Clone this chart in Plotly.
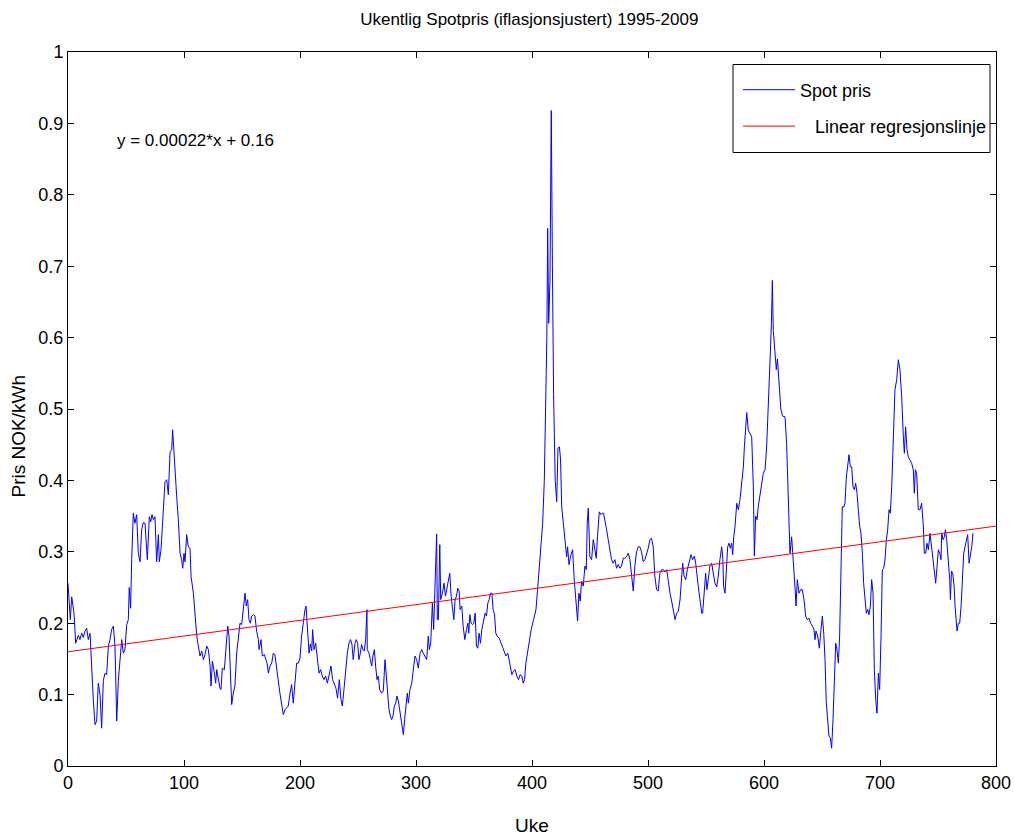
import plotly.graph_objects as go

# Weekly spot price (inflation adjusted), NOK/kWh
weeks = [0, 2.0, 3.2, 5.2, 6.6, 8.9, 10.3, 11.8, 13.2, 14.7, 16.1, 17.5, 19.0, 20.4, 21.8, 23.3, 24.7, 26.1, 27.6, 29.0,
         30.5, 31.9, 33.3, 34.8, 36.2, 37.6, 39.1, 40.5, 42.0, 43.4, 44.8, 46.3, 47.7, 49.1, 50.6, 52.0, 52.8, 54.0, 54.9, 56.3,
         57.7, 59.2, 60.6, 62.1, 63.5, 64.9, 66.4, 68.4, 70.1, 71.3, 72.4, 73.6, 75.0, 76.4, 77.9, 78.7, 80.2, 82.2, 83.6, 85.1,
         86.5, 88.0, 89.4, 90.2, 91.1, 92.2, 93.7, 95.1, 96.6, 98.0, 98.9, 100.0, 100.9, 102.3, 103.7, 105.2,
         106.1, 108.1, 109.5, 111.0, 112.4, 113.8, 115.3, 116.7, 118.1, 119.6, 121.0, 122.5, 123.3, 124.5, 126.2, 127.3, 128.2,
         129.6, 131.0, 131.9, 133.0, 134.8, 135.9, 137.7, 138.8, 139.7, 141.1, 142.5, 143.9, 145.4, 146.8, 148.3, 149.7, 151.1,
         152.6, 153.7, 154.9, 156.0, 157.2, 158.3, 159.8, 161.2, 162.6, 164.1, 164.7, 166.4, 167.5, 169.3, 170.4, 171.6, 172.7,
         174.1, 175.6, 177.0, 178.4, 179.9, 181.3, 182.7, 184.2, 185.6, 187.1, 188.5, 189.9, 191.4, 192.8, 194.2, 195.7, 197.1,
         198.6, 200.0, 201.4, 202.9, 204.3, 205.2,
         206.6, 207.8, 208.9, 210.1, 210.9, 212.1, 213.5, 215.0, 216.4, 217.8, 219.2, 220.7, 222.1, 223.6, 225.0, 226.7, 228.1,
         229.6, 231.0, 232.4, 233.9, 235.3, 236.5, 237.9, 239.4, 240.8, 242.2, 243.6, 244.8, 245.9, 247.4, 248.5, 249.7, 250.8,
         252.0, 253.1, 254.3, 255.4, 256.6, 257.7, 258.0, 259.5, 260.6, 261.8, 262.9, 264.1, 265.2, 266.4, 267.5, 268.7, 270.4,
         271.8, 273.3, 274.4, 275.6, 276.7, 277.9, 279.0, 280.2, 281.3, 282.5, 283.6, 284.8, 285.9, 287.1, 287.9, 289.1, 290.2,
         291.4, 292.5, 293.4, 294.8, 296.3, 297.7, 299.1, 300.6, 302.0, 303.5, 304.9, 306.3,
         307.8, 309.2, 310.6, 311.5, 312.7, 314.1, 315.2, 316.4, 317.8, 318.4, 319.3, 320.5, 321.3, 322.8, 324.2, 325.4, 326.5,
         328.0, 329.1, 330.3, 331.4, 332.6, 333.7, 334.9, 336.0, 337.2, 338.0, 339.5, 340.6, 342.1, 343.5, 344.7, 345.5, 346.4,
         347.5, 348.7, 349.8, 351.0, 352.1, 353.3, 354.4, 355.6, 356.7, 358.2, 359.6, 360.8, 361.9, 363.1, 364.2, 365.4, 366.5,
         367.7, 368.8, 370.0, 371.7, 373.4, 375.2, 376.3, 377.5, 379.2, 380.3, 381.5, 382.6, 384.1, 385.5, 386.9, 388.4, 389.8,
         391.3, 392.4, 393.6, 394.7, 395.9, 397.6, 399.3, 401.4, 403.4, 404.8, 406.2, 407.7,
         409.2, 410.6, 411.9, 412.8, 413.5, 414.4, 415.5, 416.6, 417.6, 418.6, 420.0, 421.3, 422.4, 423.6, 424.6,
         425.6, 427.0, 428.4, 429.9, 430.7, 431.9, 433.6, 435.0, 436.4, 437.8, 439.3, 440.4, 441.6, 442.7, 444.2, 445.6, 446.8,
         447.6, 448.5, 449.9, 451.4, 452.8, 454.2, 455.4, 456.5, 458.0, 459.4, 460.6, 461.7, 462.9, 464.3, 465.7, 467.2, 468.6,
         470.0, 471.5, 472.9, 474.3, 475.8, 477.2, 478.6, 480.1, 481.5, 483.0, 484.4, 485.8, 487.3, 488.7, 490.1, 491.6, 493.0,
         494.4, 495.9, 497.3, 498.7, 500.2, 501.6, 503.0, 504.5, 505.9, 507.4, 508.8, 510.2, 511.7, 513.1,
         514.7, 516.1, 517.5, 519.0, 520.4, 521.9, 523.3, 524.7, 526.2, 527.6, 529.0, 529.9, 531.1, 532.5, 533.9, 535.4, 537.1,
         538.5, 540.0, 541.1, 542.3, 543.4, 544.8, 546.3, 547.1, 548.5, 549.7, 550.8, 552.0, 553.4, 554.9, 556.3, 557.7, 559.2,
         560.6, 562.0, 563.5, 564.4, 565.2, 566.4, 567.5, 568.7, 569.8, 571.0, 572.1, 573.0, 573.9, 575.0, 576.5, 577.9, 579.3,
         580.8, 582.2, 583.1, 584.2, 585.1, 586.5, 588.0, 589.4, 590.8, 591.7, 592.8, 594.0, 595.1, 596.6, 598.0, 599.4, 600.9,
         602.3, 603.2,
         604.5, 605.5, 606.4, 607.2, 608.0, 609.5, 610.6, 611.6, 613.0, 614.5, 616.0,
         618.1, 619.5, 621.0, 622.4, 623.8, 625.3, 626.7, 627.6, 628.7, 630.2, 631.6, 633.0, 634.5, 635.9, 637.3, 638.8, 640.2,
         641.7, 643.1, 644.0, 644.8, 646.3, 647.7, 649.1, 650.3, 651.5, 652.6, 653.7, 654.9, 656.0, 657.2, 658.3, 659.5, 660.6,
         661.8, 662.9, 664.1, 665.2, 666.4, 667.5, 669.0, 669.8, 671.0, 672.1, 673.3, 674.4, 675.6, 676.7, 677.9, 679.0, 680.2,
         681.3, 682.5, 683.6, 684.8, 685.9, 687.1, 688.2, 689.4, 690.5, 691.7, 692.8, 694.0, 695.1, 696.3, 697.4, 698.6, 699.7,
         700.9, 702.0, 703.2, 704.3, 705.5, 706.6, 707.8, 708.9, 710.1, 711.5, 712.9, 714.4, 715.8, 717.2, 718.7, 720.1, 721.0,
         722.1, 723.3, 724.4, 725.9, 727.3, 728.7, 729.6,
         730.5, 731.6, 733.0, 734.5, 735.9, 737.4, 738.2, 739.4, 740.5, 741.7, 743.1, 744.6, 746.0, 746.9, 748.0, 749.2, 750.3,
         751.5, 752.6, 753.2, 754.4, 755.5, 756.4, 757.5, 759.0, 760.1, 760.7, 761.6, 762.7, 763.9, 764.7, 765.6, 766.4, 767.6,
         768.7, 769.9, 771.0, 772.2, 773.3, 774.5, 775.6, 776.8, 777.9, 779.1, 780.2]

price = [0.256, 0.205, 0.237, 0.214, 0.172, 0.183, 0.177, 0.186, 0.180, 0.189, 0.193, 0.177, 0.186, 0.130, 0.093, 0.058, 0.063, 0.116, 0.100, 0.053,
         0.120, 0.130, 0.128, 0.168, 0.177, 0.191, 0.196, 0.168, 0.063, 0.120, 0.154, 0.177, 0.158, 0.163, 0.198, 0.205, 0.250, 0.221, 0.289, 0.354,
         0.340, 0.352, 0.298, 0.286, 0.331, 0.341, 0.340, 0.289, 0.349, 0.342, 0.352, 0.345, 0.349, 0.286, 0.324, 0.286, 0.303, 0.363, 0.398, 0.401,
         0.380, 0.440, 0.443, 0.471, 0.447, 0.401, 0.377, 0.345, 0.298, 0.289, 0.277, 0.298, 0.286, 0.324, 0.307, 0.305,
         0.265, 0.242, 0.210, 0.182, 0.168, 0.154, 0.161, 0.149, 0.156, 0.168, 0.163, 0.140, 0.112, 0.147, 0.130, 0.116, 0.135,
         0.121, 0.109, 0.107, 0.137, 0.135, 0.154, 0.196, 0.182, 0.140, 0.086, 0.102, 0.112, 0.158, 0.182, 0.200, 0.198, 0.219,
         0.242, 0.224, 0.233, 0.205, 0.200, 0.210, 0.212, 0.210, 0.189, 0.177, 0.163, 0.177, 0.154, 0.156, 0.149, 0.144, 0.130,
         0.140, 0.144, 0.158, 0.156, 0.133, 0.119, 0.102, 0.088, 0.072, 0.079, 0.081, 0.084, 0.102, 0.114, 0.088, 0.121, 0.144,
         0.144, 0.151, 0.182, 0.205, 0.219, 0.224,
         0.186, 0.158, 0.171, 0.161, 0.191, 0.163, 0.172, 0.149, 0.130, 0.135, 0.126, 0.121, 0.126, 0.116, 0.126, 0.140, 0.121,
         0.116, 0.109, 0.095, 0.121, 0.093, 0.084, 0.107, 0.135, 0.158, 0.172, 0.177, 0.170, 0.149, 0.172, 0.177, 0.172, 0.149,
         0.158, 0.170, 0.163, 0.161, 0.177, 0.219, 0.163, 0.158, 0.149, 0.140, 0.154, 0.163, 0.140, 0.121, 0.126, 0.107, 0.102,
         0.105, 0.149, 0.126, 0.102, 0.079, 0.070, 0.065, 0.070, 0.084, 0.088, 0.098, 0.091, 0.079, 0.065, 0.051, 0.044, 0.065,
         0.084, 0.102, 0.088, 0.107, 0.116, 0.140, 0.154, 0.149, 0.137, 0.158, 0.163, 0.158,
         0.154, 0.149, 0.182, 0.163, 0.172, 0.228, 0.191, 0.256, 0.325, 0.205, 0.205, 0.310, 0.233, 0.242, 0.256, 0.238, 0.247,
         0.261, 0.270, 0.238, 0.224, 0.205, 0.233, 0.238, 0.249, 0.245, 0.219, 0.224, 0.196, 0.177, 0.191, 0.200, 0.186, 0.212,
         0.200, 0.198, 0.200, 0.214, 0.168, 0.165, 0.186, 0.172, 0.191, 0.202, 0.214, 0.210, 0.228, 0.233, 0.242, 0.242, 0.219,
         0.212, 0.186, 0.182, 0.179, 0.172, 0.163, 0.158, 0.154, 0.158, 0.147, 0.137, 0.128, 0.133, 0.135, 0.126, 0.121, 0.128,
         0.126, 0.116, 0.121, 0.144, 0.158, 0.172, 0.191, 0.205, 0.219, 0.247, 0.280, 0.303,
         0.340, 0.400, 0.500, 0.600, 0.753, 0.620, 0.680, 0.918, 0.700, 0.520, 0.400, 0.370, 0.445, 0.447, 0.430,
         0.363, 0.340, 0.312, 0.293, 0.307, 0.282, 0.296, 0.303, 0.261, 0.228, 0.203, 0.242, 0.231, 0.259, 0.252, 0.280, 0.275,
         0.340, 0.361, 0.293, 0.289, 0.317, 0.303, 0.291, 0.322, 0.356, 0.352, 0.354, 0.354, 0.345, 0.331, 0.317, 0.303, 0.289,
         0.284, 0.289, 0.277, 0.282, 0.277, 0.280, 0.291, 0.291, 0.293, 0.298, 0.289, 0.270, 0.245, 0.280, 0.300, 0.307, 0.307,
         0.300, 0.286, 0.289, 0.296, 0.305, 0.317, 0.319, 0.307, 0.266, 0.247, 0.245, 0.270, 0.275, 0.275,
         0.272, 0.275, 0.256, 0.242, 0.231, 0.219, 0.205, 0.214, 0.217, 0.233, 0.261, 0.284, 0.266, 0.261, 0.275, 0.284, 0.296,
         0.289, 0.294, 0.284, 0.270, 0.251, 0.233, 0.214, 0.214, 0.251, 0.270, 0.247, 0.266, 0.280, 0.284, 0.270, 0.256, 0.251,
         0.266, 0.289, 0.307, 0.294, 0.251, 0.242, 0.275, 0.307, 0.312, 0.305, 0.312, 0.296, 0.321, 0.335, 0.368, 0.359, 0.373,
         0.396, 0.419, 0.447, 0.471, 0.495, 0.470, 0.466, 0.461, 0.391, 0.294, 0.350, 0.345, 0.364, 0.378, 0.391, 0.410, 0.415,
         0.447, 0.485,
         0.530, 0.580, 0.620, 0.680, 0.610, 0.570, 0.555, 0.570, 0.530, 0.500, 0.490,
         0.489, 0.452, 0.368, 0.298, 0.321, 0.291, 0.251, 0.224, 0.261, 0.242, 0.247, 0.247, 0.233, 0.210, 0.205, 0.207, 0.200,
         0.196, 0.191, 0.177, 0.189, 0.182, 0.165, 0.191, 0.210, 0.186, 0.149, 0.088, 0.060, 0.042, 0.039, 0.025, 0.065, 0.112,
         0.172, 0.163, 0.144, 0.182, 0.275, 0.363, 0.363, 0.368, 0.405, 0.419, 0.436, 0.419, 0.419, 0.391, 0.387, 0.396, 0.382,
         0.359, 0.335, 0.326, 0.298, 0.256, 0.233, 0.214, 0.219, 0.212, 0.224, 0.261, 0.242, 0.135, 0.093, 0.074, 0.130, 0.107,
         0.182, 0.275, 0.277, 0.289, 0.317, 0.331, 0.359, 0.354, 0.391, 0.452, 0.527, 0.541, 0.569, 0.555, 0.517, 0.461, 0.438,
         0.475, 0.443, 0.433, 0.429, 0.424, 0.415, 0.382,
         0.415, 0.410, 0.359, 0.359, 0.368, 0.335, 0.298, 0.298, 0.312, 0.303, 0.326, 0.303, 0.280, 0.270, 0.256, 0.280, 0.303,
         0.298, 0.289, 0.326, 0.317, 0.321, 0.331, 0.317, 0.289, 0.261, 0.233, 0.273, 0.270, 0.252, 0.224, 0.205, 0.189, 0.200,
         0.200, 0.224, 0.261, 0.298, 0.307, 0.317, 0.324, 0.284, 0.293, 0.307, 0.326]

# Linear regression line y = 0.00022*x + 0.16
reg_weeks = [0, 800]
reg_price = [0.16, 0.336]

x_ticks = [0, 100, 200, 300, 400, 500, 600, 700, 800]
y_ticks = [0, 0.1, 0.2, 0.3, 0.4, 0.5, 0.6, 0.7, 0.8, 0.9, 1]
y_tick_labels = ["0", "0.1", "0.2", "0.3", "0.4", "0.5", "0.6", "0.7", "0.8", "0.9", "1"]

FONT = "Liberation Sans, Arial, sans-serif"

fig = go.Figure()
fig.add_trace(go.Scatter(x=weeks, y=price, mode="lines", legendgroup="a",
                         line=dict(color="#0000ff", width=1), name="Spot pris"))
fig.add_trace(go.Scatter(x=reg_weeks, y=reg_price, mode="lines", legendgroup="b",
                         line=dict(color="#ff0000", width=1),
                         name="\u00a0\u00a0\u00a0Linear regresjonslinje"))

axis_common = dict(showline=True, linecolor="black", linewidth=1, mirror="ticks",
                   ticks="inside", ticklen=6, tickcolor="black", tickwidth=1,
                   showgrid=False, zeroline=False, automargin=False,
                   tickfont=dict(family=FONT, size=18, color="black"))

fig.update_layout(
    width=1014, height=840,
    margin=dict(l=68, r=18, t=52, b=74),
    paper_bgcolor="white", plot_bgcolor="white",
    title=dict(text="Ukentlig Spotpris (iflasjonsjustert) 1995-2009",
               x=0.522, xanchor="center", y=1 - 19 / 840, yanchor="middle",
               font=dict(family=FONT, size=17, color="black")),
    xaxis=dict(range=[0, 800], tickvals=x_ticks, **axis_common),
    yaxis=dict(range=[0, 1], tickvals=y_ticks, ticktext=y_tick_labels, **axis_common),
    legend=dict(x=(738 - 68) / 928, xanchor="left", y=(766.5 - 72) / 714, yanchor="top",
                bgcolor="rgba(0,0,0,0)", borderwidth=0,
                font=dict(family=FONT, size=18, color="black"),
                traceorder="grouped", tracegroupgap=10, itemwidth=52),
    showlegend=True,
    shapes=[
        # legend frame
        dict(type="rect", xref="paper", yref="paper",
             x0=(733 - 68) / 928, x1=(990 - 68) / 928,
             y0=(766.5 - 153) / 714, y1=(766.5 - 65) / 714,
             line=dict(color="black", width=1), fillcolor="white", layer="above"),
    ],
    annotations=[
        dict(text="y = 0.00022*x + 0.16", x=40.5, y=0.876, xref="x", yref="y",
             xanchor="left", yanchor="middle", showarrow=False,
             font=dict(family=FONT, size=17, color="black")),
        dict(text="Uke", x=0.5, y=-(826 - 766.5) / 714, xref="paper", yref="paper",
             xanchor="center", yanchor="middle", showarrow=False,
             font=dict(family=FONT, size=19, color="black")),
        dict(text="Pris NOK/kWh", x=-(68 - 18) / 928, y=0.4615, xref="paper", yref="paper",
             xanchor="center", yanchor="middle", showarrow=False, textangle=-90,
             font=dict(family=FONT, size=19, color="black")),
    ],
)

fig.write_html("out.html")
